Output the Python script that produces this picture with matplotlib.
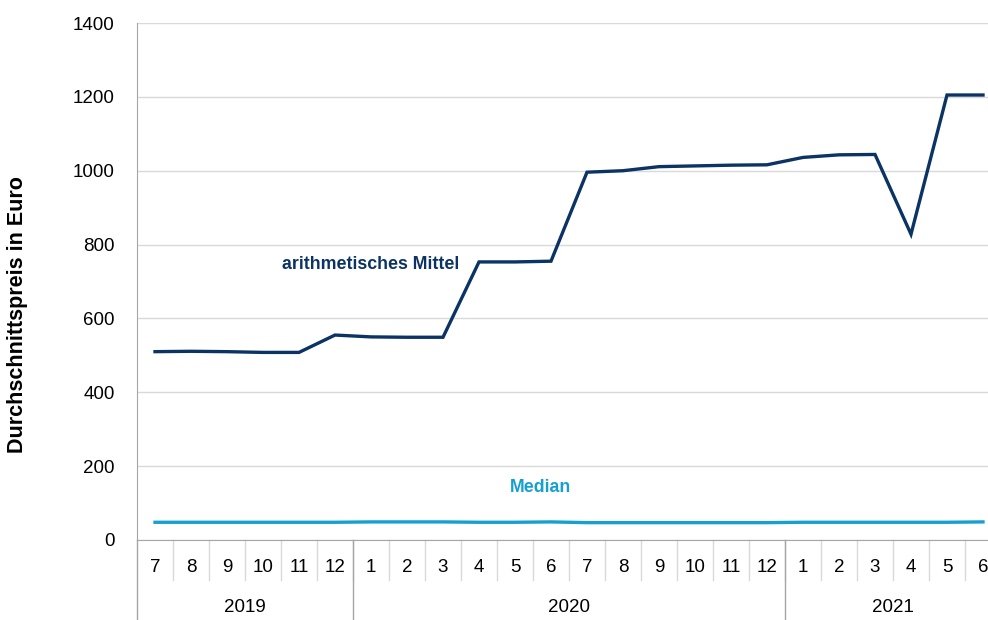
import matplotlib.pyplot as plt
import matplotlib.transforms as mtransforms

# data
months = ['7', '8', '9', '10', '11', '12',
          '1', '2', '3', '4', '5', '6', '7', '8', '9', '10', '11', '12',
          '1', '2', '3', '4', '5', '6']
years = ['2019', '2020', '2021']
year_counts = [6, 12, 6]

mittel = [510, 511, 510, 508, 508, 555,
          550, 549, 549, 753, 753, 755, 996, 1000, 1011, 1013, 1015, 1016,
          1036, 1043, 1044, 828, 1205, 1205]
median = [48, 48, 48, 48, 48, 48,
          49, 49, 49, 48, 48, 49, 47, 47, 47, 47, 47, 47,
          48, 48, 48, 48, 48, 49]

plt.rcParams['font.family'] = ['Liberation Sans', 'DejaVu Sans']

navy = '#0b3364'
blue = '#15a0d0'
grid_col = '#d9d9d9'
axis_col = '#a6a6a6'

fig = plt.figure(figsize=(9.88, 6.2), dpi=100)
ax = fig.add_axes([137 / 988, 80 / 620, 864 / 988, 517 / 620])

x = list(range(len(months)))
ax.plot(x, mittel, color=navy, lw=2.4, solid_joinstyle='miter')
ax.plot(x, median, color=blue, lw=2.4)

ax.set_xlim(-0.5, len(months) - 0.5)
ax.set_ylim(0, 1400)
ax.set_yticks(range(0, 1401, 200))
ax.yaxis.grid(True, color=grid_col, lw=1)
ax.set_axisbelow(True)
ax.tick_params(axis='y', length=0, labelsize=13.5, pad=16)
ax.set_xticks([])

for s in ['top', 'right']:
    ax.spines[s].set_visible(False)
ax.spines['left'].set_color(axis_col)
ax.spines['bottom'].set_color(axis_col)

# two-level category axis
trans = mtransforms.blended_transform_factory(ax.transData, ax.transAxes)
for i, m in enumerate(months):
    ax.text(i, -0.053, m, transform=trans, ha='center', va='center', fontsize=13.5)
for i in range(1, len(months)):
    ax.plot([i - 0.5, i - 0.5], [0, -0.077], transform=trans, color=grid_col,
            lw=1, clip_on=False)

start = 0
for yr, n in zip(years, year_counts):
    ax.text(start + n / 2 - 0.5, -0.13, yr, transform=trans, ha='center',
            va='center', fontsize=13.5)
    if start > 0:
        ax.plot([start - 0.5, start - 0.5], [0, -0.16], transform=trans,
                color=axis_col, lw=1, clip_on=False)
    start += n
ax.plot([-0.5, -0.5], [0, -0.16], transform=trans, color=axis_col, lw=1, clip_on=False)

ax.text(6, 745, 'arithmetisches Mittel', color=navy, fontsize=12.8,
        fontweight='bold', ha='center', va='center')
ax.text(10.7, 143, 'Median', color=blue, fontsize=12.8,
        fontweight='bold', ha='center', va='center')

fig.text(18 / 988, 1 - 315 / 620, 'Durchschnittspreis in Euro', rotation=90,
         fontsize=15.5, fontweight='bold', ha='center', va='center')

plt.savefig('out.png', dpi=100)
plt.close()
